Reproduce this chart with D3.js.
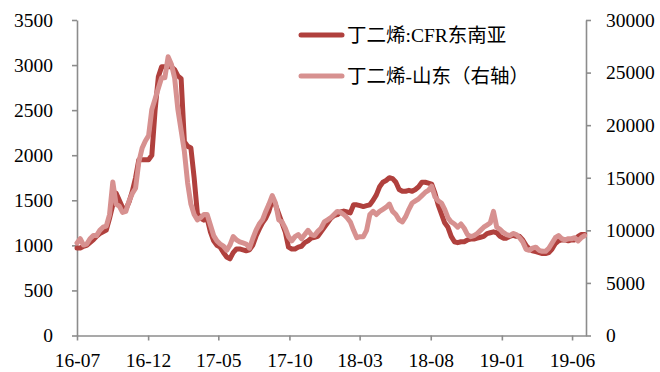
<!DOCTYPE html>
<html><head><meta charset="utf-8">
<script src="https://cdn.jsdelivr.net/npm/d3@7"></script>
<style>body{margin:0;background:#fff}svg{display:block}</style>
</head><body>
<svg id="c" width="660" height="372"></svg>
<script>
// ---- data ----
const startDate = "2016-07-01";   // first weekly observation
const endDate = "2019-07-01";     // end of x domain
const xTickLabels = ["16-07","16-12","17-05","17-10","18-03","18-08","19-01","19-06"];
const leftTicks = [0,500,1000,1500,2000,2500,3000,3500];
const rightTicks = [0,5000,10000,15000,20000,25000,30000];
const seriesNames = ["丁二烯:CFR东南亚","丁二烯-山东（右轴）"];
// 丁二烯:CFR东南亚 (weekly, left axis, USD/t)
const cfrSEA = [970,970,990,1000,1030,1060,1100,1130,1150,1170,
1300,1450,1580,1500,1420,1400,1480,1600,1750,1950,
1950,1950,1950,2000,2500,2870,2980,2980,2980,2980,
2950,2880,2850,2150,2100,2080,1750,1350,1300,1280,
1300,1150,1050,1000,980,920,870,850,920,960,
960,950,940,950,1000,1100,1180,1250,1300,1380,
1500,1450,1350,1250,1150,980,960,960,980,990,
1030,1050,1080,1090,1100,1150,1200,1250,1300,1330,
1340,1370,1380,1370,1360,1450,1450,1440,1430,1440,
1450,1500,1560,1650,1700,1720,1750,1740,1700,1620,
1600,1600,1610,1600,1620,1650,1700,1700,1690,1680,
1580,1450,1350,1250,1200,1100,1040,1030,1040,1040,
1060,1070,1070,1080,1090,1100,1130,1140,1150,1140,
1100,1080,1080,1100,1110,1100,1100,1060,1000,960,
940,930,920,910,910,920,960,1020,1050,1060,
1060,1050,1060,1060,1100,1120,1120];
// 丁二烯-山东 (weekly, right axis, CNY/t)
const shandong = [8800,9200,8600,8700,9200,9500,9500,10000,10300,10400,
11500,14600,12500,12300,11700,11800,12800,13500,14000,16500,
17800,18500,19000,21500,22500,23500,24500,24500,26500,25800,
24500,21500,19500,17500,14500,12500,11500,11000,11200,11500,
11500,10500,9500,9000,8700,8500,8100,8600,9400,9100,
8900,8800,8700,8300,9200,10000,10600,11000,11800,12500,
13300,12600,11000,10800,10200,9400,9000,9400,9600,9200,
9600,10000,9600,9500,9900,10200,10800,11000,11200,11500,
11800,11700,11500,11200,10800,10000,9300,9400,9400,10000,
11500,11800,11500,11800,12000,12200,12500,11800,11500,11000,
10800,11300,12000,12600,12800,13000,13300,13600,13800,14200,
13200,12800,12600,12000,11200,10800,10600,10300,10600,10200,
9600,9400,9500,9700,10000,10300,10500,10700,11800,10300,
10100,9800,9600,9500,9700,9600,9300,8900,8200,8100,
8300,8400,8100,8000,8000,8300,8800,9300,9500,9200,
9100,9200,9200,9300,9000,9300,9500];

// ---- layout ----
const L = 77, R = 586, T = 20, B = 335.5;
const axisColor = "#8c8c8c";
const darkColor = "#b0403d";
const lightColor = "#d79190";
const font = "'Liberation Serif','Times New Roman','Noto Sans CJK SC',serif";

const parseDate = d3.timeParse("%Y-%m-%d");
const parseTick = d3.timeParse("%y-%m");
const start = parseDate(startDate);
const dates = cfrSEA.map((_, i) => d3.timeDay.offset(start, 7 * i));

const x = d3.scaleTime().domain([start, parseDate(endDate)]).range([L, R]);
const yL = d3.scaleLinear().domain([0, 3500]).range([B, T]);
const yR = d3.scaleLinear().domain([0, 30000]).range([B, T]);

const svg = d3.select("#c");

function styleAxis(g) {
  g.selectAll("path.domain").attr("stroke", axisColor).attr("stroke-width", 1.6);
  g.selectAll(".tick line").attr("stroke", axisColor).attr("stroke-width", 1.6);
  g.selectAll("text").attr("fill", "#000").style("font-family", font).style("font-size", "19.5px");
}

const gL = svg.append("g").attr("transform", `translate(${L},0)`)
  .call(d3.axisLeft(yL).tickValues(leftTicks).tickSize(5).tickSizeOuter(0).tickPadding(19).tickFormat(d3.format("d")));
styleAxis(gL);

const gR = svg.append("g").attr("transform", `translate(${R},0)`)
  .call(d3.axisRight(yR).tickValues(rightTicks).tickSize(5).tickSizeOuter(0).tickPadding(15).tickFormat(d3.format("d")));
styleAxis(gR);

const tickDates = xTickLabels.map(parseTick);
const gB = svg.append("g").attr("transform", `translate(0,${B})`)
  .call(d3.axisBottom(x).tickValues(tickDates).tickSize(5).tickSizeOuter(0).tickFormat((d, i) => xTickLabels[i]));
styleAxis(gB);
gB.selectAll("text").attr("y", 31).attr("dy", null);

// ---- lines ----
const lineL = d3.line().x((d, i) => x(dates[i])).y(d => yL(d));
const lineR = d3.line().x((d, i) => x(dates[i])).y(d => yR(d));

svg.append("path").datum(cfrSEA).attr("d", lineL)
  .attr("fill", "none").attr("stroke", darkColor).attr("stroke-width", 5)
  .attr("stroke-linejoin", "round").attr("stroke-linecap", "round");
svg.append("path").datum(shandong).attr("d", lineR)
  .attr("fill", "none").attr("stroke", lightColor).attr("stroke-width", 5)
  .attr("stroke-linejoin", "round").attr("stroke-linecap", "round");

// ---- legend ----
const legend = svg.append("g");
const legY = [35, 76];
const legColors = [darkColor, lightColor];
seriesNames.forEach((name, i) => {
  legend.append("line").attr("x1", 301).attr("x2", 342).attr("y1", legY[i]).attr("y2", legY[i])
    .attr("stroke", legColors[i]).attr("stroke-width", 5).attr("stroke-linecap", "round");
  legend.append("text").attr("x", 347).attr("y", legY[i]).attr("dy", "0.35em")
    .style("font-family", font).style("font-size", "19.5px").attr("fill", "#000").text(name);
});
</script>
</body></html>
